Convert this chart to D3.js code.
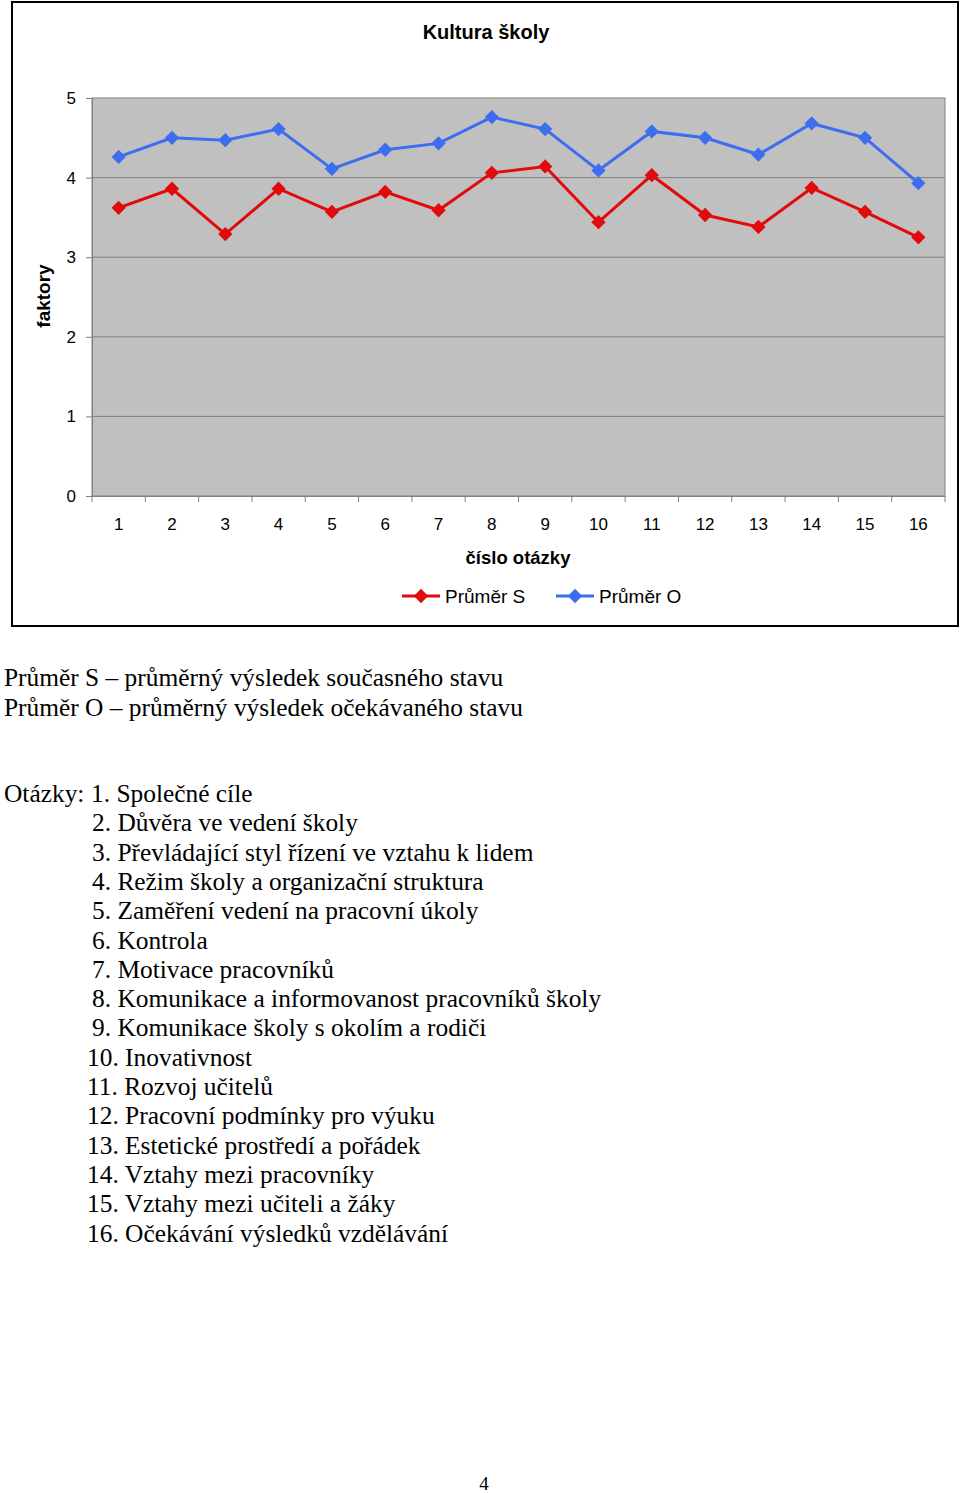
<!DOCTYPE html>
<html>
<head>
<meta charset="utf-8">
<script src="https://cdn.jsdelivr.net/npm/d3@7"></script>
<style>
  body { margin: 0; background: #fff; }
  svg { display: block; }
</style>
</head>
<body>
<svg id="page" width="960" height="1493"></svg>
<script>
// data
let questions = d3.range(1, 17);
let prumerS = [3.62, 3.86, 3.29, 3.86, 3.57, 3.82, 3.59, 4.06, 4.14, 3.44, 4.03, 3.53, 3.38, 3.87, 3.57, 3.25];
let prumerO = [4.26, 4.50, 4.47, 4.61, 4.11, 4.35, 4.43, 4.76, 4.61, 4.09, 4.58, 4.50, 4.29, 4.68, 4.50, 3.93];
let yTicks = [0, 1, 2, 3, 4, 5];

let seriesNames = ["Průměr S", "Průměr O"];
let seriesColors = ["#e20a0a", "#3d6ef0"];

let notes = [
  "Průměr S – průměrný výsledek současného stavu",
  "Průměr O – průměrný výsledek očekávaného stavu"
];
let questionNames = [
  "Společné cíle",
  "Důvěra ve vedení školy",
  "Převládající styl řízení ve vztahu k lidem",
  "Režim školy a organizační struktura",
  "Zaměření vedení na pracovní úkoly",
  "Kontrola",
  "Motivace pracovníků",
  "Komunikace a informovanost pracovníků školy",
  "Komunikace školy s okolím a rodiči",
  "Inovativnost",
  "Rozvoj učitelů",
  "Pracovní podmínky pro výuku",
  "Estetické prostředí a pořádek",
  "Vztahy mezi pracovníky",
  "Vztahy mezi učiteli a žáky",
  "Očekávání výsledků vzdělávání"
];

let svg = d3.select("#page");
let sans = "'Liberation Sans', Arial, sans-serif";
let serif = "'Liberation Serif', 'Times New Roman', serif";

// chart frame
svg.append("rect")
  .attr("x", 12).attr("y", 2)
  .attr("width", 946).attr("height", 624)
  .attr("fill", "#fff").attr("stroke", "#000").attr("stroke-width", 2);

svg.append("text")
  .attr("x", 486).attr("y", 39)
  .attr("text-anchor", "middle")
  .attr("font-family", sans).attr("font-weight", "bold").attr("font-size", 20)
  .text("Kultura školy");

// plot area
let plotLeft = 92, plotRight = 945, plotTop = 98, plotBottom = 496;

let x = d3.scaleBand()
  .domain(questions)
  .range([plotLeft, plotRight]);

let y = d3.scaleLinear()
  .domain([0, 5])
  .range([plotBottom, plotTop]);

svg.append("rect")
  .attr("x", plotLeft).attr("y", plotTop)
  .attr("width", plotRight - plotLeft).attr("height", plotBottom - plotTop)
  .attr("fill", "#c0c0c0").attr("stroke", "#808080").attr("stroke-width", 1);

// gridlines
svg.append("g")
  .selectAll("line")
  .data(yTicks.slice(1, -1))
  .enter()
  .append("line")
  .attr("x1", plotLeft).attr("x2", plotRight)
  .attr("y1", d => y(d)).attr("y2", d => y(d))
  .attr("stroke", "#808080").attr("stroke-width", 1);

// y axis
let yAxis = svg.append("g")
  .attr("transform", "translate(" + plotLeft + ",0)")
  .call(d3.axisLeft(y).tickValues(yTicks).tickFormat(d3.format("d")).tickSize(6).tickPadding(10));
yAxis.select(".domain").attr("stroke", "#808080");
yAxis.selectAll(".tick line").attr("stroke", "#808080");
yAxis.selectAll("text")
  .attr("font-family", sans).attr("font-size", 17).attr("fill", "#000");

// x axis: labels centered, ticks between categories
let xAxis = svg.append("g")
  .attr("transform", "translate(0," + plotBottom + ")")
  .call(d3.axisBottom(x).tickSize(0).tickPadding(22));
xAxis.select(".domain").attr("stroke", "#808080");
xAxis.selectAll("text")
  .attr("font-family", sans).attr("font-size", 17).attr("fill", "#000");

svg.append("g")
  .selectAll("line")
  .data(questions.concat([17]))
  .enter()
  .append("line")
  .attr("x1", d => plotLeft + (d - 1) * x.bandwidth())
  .attr("x2", d => plotLeft + (d - 1) * x.bandwidth())
  .attr("y1", plotBottom).attr("y2", plotBottom + 6)
  .attr("stroke", "#808080");

svg.append("text")
  .attr("x", 518).attr("y", 564)
  .attr("text-anchor", "middle")
  .attr("font-family", sans).attr("font-weight", "bold").attr("font-size", 18.5)
  .text("číslo otázky");

svg.append("text")
  .attr("transform", "translate(50,296) rotate(-90)")
  .attr("text-anchor", "middle")
  .attr("font-family", sans).attr("font-weight", "bold").attr("font-size", 19)
  .text("faktory");

// series
let diamond = d3.symbol().type(d3.symbolDiamond2).size(130);
let line = d3.line()
  .x((d, i) => x(questions[i]) + x.bandwidth() / 2)
  .y(d => y(d));

[prumerS, prumerO].forEach((values, k) => {
  svg.append("path")
    .datum(values)
    .attr("d", line)
    .attr("fill", "none")
    .attr("stroke", seriesColors[k])
    .attr("stroke-width", 3);

  svg.append("g")
    .selectAll("path")
    .data(values)
    .enter()
    .append("path")
    .attr("d", diamond)
    .attr("transform", (d, i) => "translate(" + (x(questions[i]) + x.bandwidth() / 2) + "," + y(d) + ")")
    .attr("fill", seriesColors[k]);
});

// legend
let legendX = [402, 556];
seriesNames.forEach((name, k) => {
  let g = svg.append("g").attr("transform", "translate(" + legendX[k] + ",596)");
  g.append("line")
    .attr("x1", 0).attr("x2", 38)
    .attr("stroke", seriesColors[k]).attr("stroke-width", 3);
  g.append("path")
    .attr("d", diamond)
    .attr("transform", "translate(19,0)")
    .attr("fill", seriesColors[k]);
  g.append("text")
    .attr("x", 43).attr("y", 6.5)
    .attr("font-family", sans).attr("font-size", 19)
    .text(name);
});

// text below the chart
svg.append("g")
  .selectAll("text")
  .data(notes)
  .enter()
  .append("text")
  .attr("x", 4)
  .attr("y", (d, i) => 686 + i * 29.5)
  .attr("font-family", serif).attr("font-size", 25.4)
  .text(d => d);

svg.append("text")
  .attr("x", 4).attr("y", 802)
  .attr("font-family", serif).attr("font-size", 25.4)
  .text("Otázky:");

svg.append("g")
  .selectAll("text")
  .data(questionNames)
  .enter()
  .append("text")
  .attr("x", (d, i) => i === 0 ? 91 : (i < 9 ? 92 : 87))
  .attr("y", (d, i) => 802 + i * 29.3)
  .attr("font-family", serif).attr("font-size", 25.4)
  .text((d, i) => (i + 1) + ". " + d);

svg.append("text")
  .attr("x", 484).attr("y", 1490)
  .attr("text-anchor", "middle")
  .attr("font-family", serif).attr("font-size", 19)
  .text("4");
</script>
</body>
</html>
